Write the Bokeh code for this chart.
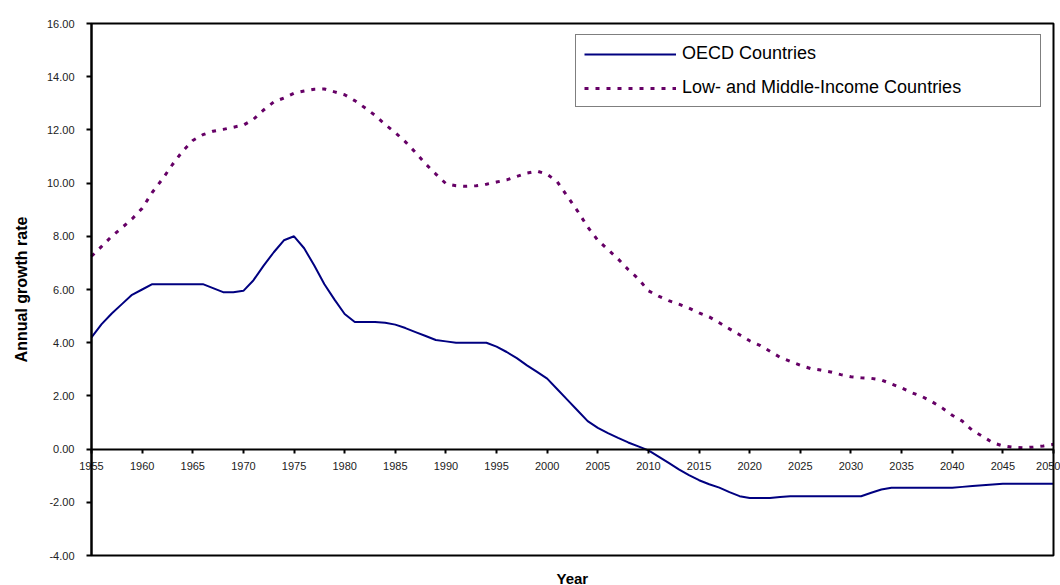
from bokeh.plotting import figure
from bokeh.models import FixedTicker, Legend, LegendItem, Title, Range1d
from bokeh.embed import file_html
from bokeh.resources import INLINE

years = list(range(1955, 2051))

oecd = [4.2, 4.7, 5.1, 5.45, 5.8, 6.0, 6.2, 6.2, 6.2, 6.2,
        6.2, 6.2, 6.05, 5.9, 5.9, 5.95, 6.35, 6.9, 7.4, 7.85,
        8.0, 7.55, 6.9, 6.2, 5.62, 5.08, 4.78, 4.78, 4.78, 4.75,
        4.68, 4.55, 4.4, 4.25, 4.1, 4.05, 4.0, 4.0, 4.0, 4.0,
        3.85, 3.65, 3.42, 3.15, 2.9, 2.65, 2.25, 1.85, 1.45, 1.05,
        0.8, 0.6, 0.42, 0.25, 0.1, -0.05,
        -0.28, -0.52, -0.76, -0.98, -1.17, -1.32, -1.45, -1.62, -1.77, -1.84,
        -1.84, -1.84, -1.8, -1.77,
        -1.77, -1.77, -1.77, -1.77, -1.77, -1.77, -1.77,
        -1.64, -1.52,
        -1.45, -1.45, -1.45, -1.45, -1.45, -1.45, -1.45,
        -1.42, -1.39, -1.36, -1.33, -1.30,
        -1.30, -1.30, -1.30, -1.30, -1.30]

lmic = [7.25, 7.62, 8.0, 8.32, 8.65, 9.05, 9.65, 10.15, 10.7, 11.2,
        11.6, 11.82, 11.95, 12.02, 12.1, 12.18, 12.4, 12.75, 13.05, 13.2,
        13.38, 13.46, 13.53, 13.54, 13.43, 13.32, 13.1, 12.83, 12.55, 12.2,
        11.9, 11.55, 11.15, 10.72, 10.34, 9.98, 9.9, 9.88, 9.9, 9.96,
        10.04, 10.12, 10.25, 10.38, 10.45, 10.33, 10.05, 9.5, 8.95, 8.35,
        7.85, 7.5, 7.15, 6.75, 6.4, 5.95, 5.75, 5.58, 5.45, 5.3,
        5.12, 4.97, 4.75, 4.52, 4.3, 4.07, 3.9, 3.68, 3.45, 3.3,
        3.15, 3.03, 2.97, 2.9, 2.8, 2.72, 2.68, 2.66, 2.6, 2.45,
        2.3, 2.12, 1.98, 1.78, 1.55, 1.27, 1.05, 0.7, 0.48, 0.24,
        0.12, 0.07, 0.05, 0.08, 0.12, 0.18]

series_names = ["OECD Countries", "Low- and Middle-Income Countries"]
x_ticks = [1955, 1960, 1965, 1970, 1975, 1980, 1985, 1990, 1995, 2000,
           2005, 2010, 2015, 2020, 2025, 2030, 2035, 2040, 2045, 2050]
y_ticks = [-4, -2, 0, 2, 4, 6, 8, 10, 12, 14, 16]
y_tick_labels = ["-4.00", "-2.00", "0.00", "2.00", "4.00", "6.00", "8.00",
                 "10.00", "12.00", "14.00", "16.00"]

FONT = "Liberation Sans"

# Layout: the frame is larger than the visible plot box so that the axis texts drawn
# inside it are not clipped; the box spans x_ticks[0]..x_ticks[-1] and y_ticks[0]..y_ticks[-1].
X0, X1 = x_ticks[0], x_ticks[-1]
Y0, Y1 = y_ticks[0], y_ticks[-1]
BOX_LEFT, BOX_W, CANVAS_W = 91, 962, 1060
BOX_H, PAD_TOP, PAD_BOTTOM = 532, 15, 10
ppx = BOX_W / (X1 - X0)
ppy = BOX_H / (Y1 - Y0)
x_range = Range1d(X0 - BOX_LEFT / ppx, X1 + (CANVAS_W - BOX_LEFT - BOX_W) / ppx)
y_range = Range1d(Y0 - PAD_BOTTOM / ppy, Y1 + PAD_TOP / ppy)

p = figure(frame_width=CANVAS_W, frame_height=BOX_H + PAD_TOP + PAD_BOTTOM,
           min_border_left=0, min_border_top=8, min_border_right=0, min_border_bottom=20,
           output_backend="svg", toolbar_location=None,
           x_range=x_range, y_range=y_range)

p.background_fill_color = "white"
p.border_fill_color = "white"
p.outline_line_color = None
p.xgrid.visible = False
p.ygrid.visible = False

r1 = p.line(years, oecd, line_color="#000080", line_width=2)
r2 = p.line(years, lmic, line_color="#660066", line_width=3, line_dash="4 7")

# plot box
p.quad(left=[X0], right=[X1], bottom=[Y0], top=[Y1], fill_color=None,
       line_color="black", line_width=2)

# x axis crossing at zero
xa = p.xaxis[0]
xa.fixed_location = 0
xa.bounds = (X0, X1)
xa.ticker = FixedTicker(ticks=x_ticks)
xa.axis_line_color = "black"
xa.axis_line_width = 2
xa.major_tick_line_color = "black"
xa.major_tick_line_width = 2
xa.major_tick_in = 0
xa.major_tick_out = 4
xa.minor_tick_line_color = None
xa.major_label_standoff = 9
xa.major_label_text_font = FONT
xa.major_label_text_font_size = "11px"
xa.major_label_text_color = "#222222"

ya = p.yaxis[0]
ya.fixed_location = X0
ya.bounds = (Y0, Y1)
ya.ticker = FixedTicker(ticks=y_ticks)
ya.major_label_overrides = {t: s for t, s in zip(y_ticks, y_tick_labels)}
ya.axis_line_color = "black"
ya.axis_line_width = 2
ya.major_tick_line_color = "black"
ya.major_tick_line_width = 2
ya.major_tick_in = 0
ya.major_tick_out = 5
ya.minor_tick_line_color = None
ya.major_label_standoff = 12
ya.major_label_text_font = FONT
ya.major_label_text_font_size = "11px"
ya.major_label_text_color = "#222222"
ya.axis_label = "Annual growth rate"
ya.axis_label_text_font = FONT
ya.axis_label_text_font_size = "16px"
ya.axis_label_text_font_style = "bold"
ya.axis_label_text_color = "black"
ya.axis_label_standoff = 14

p.add_layout(Title(text="Year", align="left", offset=BOX_LEFT + BOX_W / 2 - 16,
                   text_font=FONT, text_font_size="15px",
                   text_font_style="bold", text_color="black", standoff=4), "below")

legend = Legend(items=[LegendItem(label=series_names[0], renderers=[r1]),
                       LegendItem(label=series_names[1], renderers=[r2])],
                location=(575, 458), padding=8, spacing=13,
                glyph_width=92, glyph_height=18, label_height=18, label_width=350,
                label_standoff=6, label_text_font=FONT, label_text_font_size="18px",
                label_text_color="black",
                border_line_color="black", border_line_width=1.5,
                background_fill_color="white", background_fill_alpha=1.0)
p.add_layout(legend)

open("out.html", "w").write(file_html(p, INLINE))
